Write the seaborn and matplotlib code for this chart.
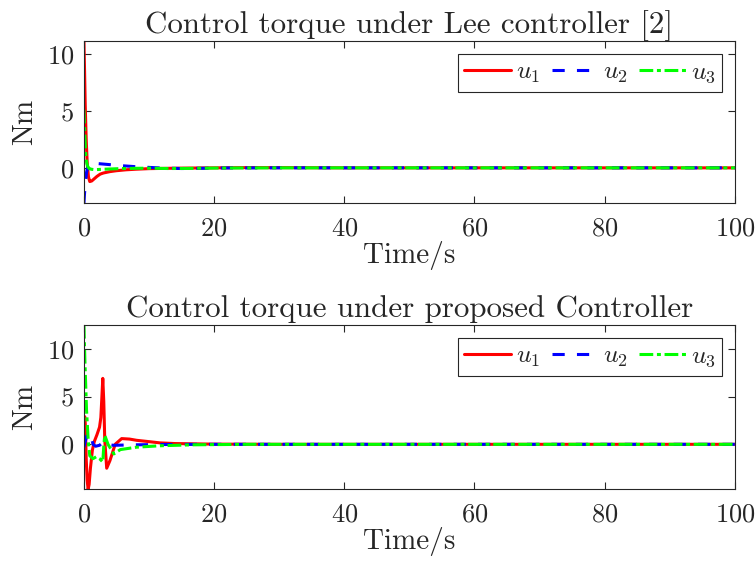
import numpy as np
import pandas as pd
import matplotlib
matplotlib.use("Agg")
import matplotlib.pyplot as plt
import seaborn as sns

# ---- data: Lee controller ----
t_lee_u1 = [0, 0.1, 0.2, 0.35, 0.5, 0.7, 0.9, 1.2, 1.6, 2.0, 2.5, 3, 4, 5, 6.5, 8, 10, 13, 16, 20, 25, 30, 40, 100]
lee_u1 = [11.1, 8.5, 5.5, 2.5, 0.5, -0.8, -1.2, -1.15, -0.95, -0.75, -0.55, -0.45, -0.33, -0.25, -0.17, -0.12, -0.07, -0.04, -0.02, 0, 0.02, 0.02, 0, 0]
t_lee_u2 = [0, 0.1, 0.25, 0.4, 0.6, 0.9, 1.3, 2, 3, 4, 5, 6.5, 8, 10, 12, 15, 18, 22, 30, 100]
lee_u2 = [-3.1, -2.2, -1.2, -0.4, 0.1, 0.3, 0.38, 0.38, 0.33, 0.28, 0.22, 0.16, 0.1, 0.04, -0.02, -0.06, -0.04, -0.01, 0, 0]
t_lee_u3 = [0, 0.1, 0.2, 0.3, 0.45, 0.6, 0.8, 1.1, 1.5, 2, 3, 4, 6, 8, 10, 13, 16, 20, 30, 100]
lee_u3 = [5.1, 3.5, 2.0, 1.0, 0.4, 0.1, -0.05, -0.12, -0.15, -0.15, -0.12, -0.1, -0.06, -0.04, -0.03, -0.06, -0.05, -0.02, 0, 0]

# ---- data: proposed controller ----
t_pro_u1 = [0, 0.12, 0.22, 0.35, 0.5, 0.65, 0.8, 1.0, 1.3, 1.6, 2.0, 2.4, 2.6, 2.75, 2.9, 3.05, 3.2, 3.5, 4.0, 4.8, 5.8, 7, 8.1, 10, 11.7, 14, 17, 20, 30, 100]
pro_u1 = [0.3, 2.9, 2.0, -1.5, -3.8, -4.7, -4.2, -2.5, -0.6, 0.3, 1.0, 1.8, 2.8, 4.8, 6.9, 4.5, 0.5, -2.5, -1.7, 0.0, 0.6, 0.55, 0.42, 0.28, 0.15, 0.08, 0.05, 0.02, 0, 0]
t_pro_u2 = [0, 0.2, 0.45, 0.66, 0.9, 1.2, 1.4, 1.8, 2.4, 3.0, 3.5, 4.5, 6, 8, 12, 20, 100]
pro_u2 = [-0.3, 0.3, 0.9, 1.2, 1.0, 0.6, 0.0, -0.2, -0.1, 0.25, 0.0, -0.1, -0.08, -0.05, -0.02, 0, 0]
t_pro_u3 = [0, 0.15, 0.4, 0.66, 0.9, 1.4, 1.9, 2.4, 2.9, 3.05, 3.2, 3.7, 4.6, 5.6, 8.1, 11.7, 16.8, 25, 100]
pro_u3 = [12.5, 8.8, 3.6, 0.4, -1.2, -1.5, -1.3, -1.5, -1.85, -0.2, 0.95, 0.0, -1.0, -0.55, -0.3, -0.15, -0.05, 0, 0]

x_ticks = [0, 20, 40, 60, 80, 100]
y_ticks = [0, 5, 10]
titles = ["Control torque under Lee controller [2]", "Control torque under proposed Controller"]
series_labels = [r"$u_1$", r"$u_2$", r"$u_3$"]

sns.set_theme(style="ticks")
plt.rcParams["font.family"] = ["cmr10"]
plt.rcParams["axes.formatter.use_mathtext"] = True
plt.rcParams["mathtext.fontset"] = "cm"

fig = plt.figure(figsize=(7.56, 5.63), dpi=100)
ax1 = fig.add_axes([0.111, 0.639, 0.861, 0.288])
ax2 = fig.add_axes([0.111, 0.131, 0.861, 0.292])

colors = ["#ff0000", "#0000ff", "#00ff00"]
styles = ["-", (0, (4, 4)), (0, (4.5, 1.2, 1.3, 1.2))]

panels = [
    (ax1, [(t_lee_u1, lee_u1), (t_lee_u2, lee_u2), (t_lee_u3, lee_u3)], (-3.1, 11.1)),
    (ax2, [(t_pro_u1, pro_u1), (t_pro_u2, pro_u2), (t_pro_u3, pro_u3)], (-4.7, 12.5)),
]

for i, (ax, series, ylim) in enumerate(panels):
    for (t, u), c, ls, lab in zip(series, colors, styles, series_labels):
        df = pd.DataFrame({"t": t, "u": u})
        sns.lineplot(data=df, x="t", y="u", ax=ax, color=c, linestyle=ls,
                     linewidth=2.2, label=lab, sort=False, estimator=None)
    ax.set_xlim(0, 100)
    ax.set_ylim(*ylim)
    ax.set_xticks(x_ticks)
    ax.set_yticks(y_ticks)
    ax.set_xlabel("Time/s", fontsize=21, labelpad=0)
    ax.set_ylabel("Nm", fontsize=21, labelpad=6)
    ax.set_title(titles[i], fontsize=22.3, pad=6)
    ax.tick_params(direction="in", top=True, right=True, labelsize=19,
                   length=5, width=0.8, color="#262626")
    ax.tick_params(axis="x", pad=10)
    ax.tick_params(axis="y", pad=7)
    for s in ax.spines.values():
        s.set_color("#262626")
        s.set_linewidth(0.8)
        s.set_visible(True)
    leg = ax.legend(loc="upper right", ncol=3, fontsize=18.5, frameon=True,
                    fancybox=False, edgecolor="#262626", framealpha=1,
                    handlelength=1.8, columnspacing=0.45, handletextpad=0.2,
                    borderpad=0.25, borderaxespad=0.5)
    leg.get_frame().set_linewidth(0.8)

fig.savefig("out.png", dpi=100)
